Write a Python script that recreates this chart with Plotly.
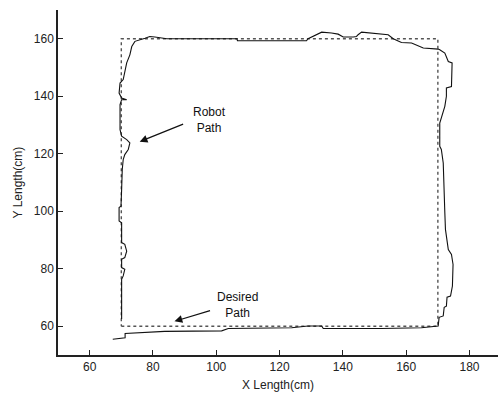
import plotly.graph_objects as go

# Desired square path
desired_x = [70, 170, 170, 70, 70]
desired_y = [60, 60, 160, 160, 60]

# Robot path
robot_x = [67.3, 71.2, 71.2, 80.6, 83.7, 101.7, 103.8, 123.8, 129.0, 133.3, 133.8, 152.2, 164.8, 170.1,
           170.1, 170.4, 171.7, 172.0, 172.7, 172.9, 174.0, 174.6, 174.8, 174.3, 173.3, 172.4, 172.2, 172.0,
           172.0, 171.7, 171.1, 170.6, 170.6, 171.7, 172.2, 172.7, 172.7, 174.3, 174.5, 173.3, 172.2, 170.6,
           170.1, 165.4, 163.3, 161.7, 158.5, 155.9, 154.3, 149.0, 145.9, 144.8, 144.3, 143.3, 140.1, 138.5,
           136.4, 133.3, 130.6, 129.0, 128.5, 106.7, 106.5, 84.4, 80.6, 79.0, 77.5, 74.3, 73.3, 72.7, 71.7,
           71.1, 70.6, 69.6, 69.3, 70.1, 71.7, 70.1, 69.6, 69.6, 70.1, 71.7, 72.7, 72.2, 71.1, 70.6, 70.3,
           70.1, 69.9, 69.3, 69.3, 70.1, 70.1, 71.1, 71.7, 71.1, 70.1, 70.1, 71.1, 70.6, 70.1, 70.1]
robot_y = [55.5, 56.0, 57.5, 57.9, 58.2, 58.4, 59.2, 59.5, 60.1, 60.1, 59.2, 59.2, 59.5, 60.1,
           60.1, 63.1, 63.6, 66.6, 67.0, 70.1, 70.5, 74.0, 81.5, 85.0, 86.7, 93.7, 99.6, 111.0,
           107.6, 116.8, 121.5, 122.6, 130.7, 134.2, 136.5, 140.0, 142.9, 143.4, 151.6, 152.1, 155.0, 156.2,
           156.4, 156.8, 157.9, 158.5, 158.7, 160.0, 161.4, 162.0, 162.3, 161.4, 160.8, 160.6, 160.6, 161.6,
           162.0, 162.3, 160.8, 160.0, 159.3, 159.3, 160.0, 160.0, 160.6, 160.8, 160.2, 159.1, 157.3, 154.4, 151.6,
           148.1, 145.8, 144.6, 141.1, 139.4, 138.8, 138.8, 137.1, 128.4, 126.1, 124.9, 123.8, 121.5, 119.7, 118.0, 114.5,
           107.6, 101.8, 101.3, 96.6, 96.0, 89.1, 88.5, 86.1, 83.9, 83.3, 80.4, 79.8, 77.5, 76.3, 62.5]

x_ticks = [60, 80, 100, 120, 140, 160, 180]
y_ticks = [60, 80, 100, 120, 140, 160]

FONT = "Liberation Sans, Arial, sans-serif"

fig = go.Figure()
fig.add_trace(go.Scatter(x=desired_x, y=desired_y, mode="lines",
                         line=dict(color="#555555", width=1.4, dash="dot"), hoverinfo="skip"))
fig.add_trace(go.Scatter(x=robot_x, y=robot_y, mode="lines",
                         line=dict(color="#111111", width=1.1), hoverinfo="skip"))

annotations = [
    dict(x=75.8, y=124.2, ax=90.0, ay=130.5, xref="x", yref="y", axref="x", ayref="y",
         text="", showarrow=True, arrowhead=2, arrowsize=1.3, arrowwidth=1.2, arrowcolor="#111"),
    dict(x=98.0, y=131.8, xref="x", yref="y", text="Robot<br>Path", showarrow=False,
         font=dict(family=FONT, size=12, color="#111")),
    dict(x=86.8, y=61.7, ax=98.5, ay=65.6, xref="x", yref="y", axref="x", ayref="y",
         text="", showarrow=True, arrowhead=2, arrowsize=1.3, arrowwidth=1.2, arrowcolor="#111"),
    dict(x=106.7, y=67.3, xref="x", yref="y", text="Desired<br>Path", showarrow=False,
         font=dict(family=FONT, size=12, color="#111")),
    dict(x=119.5, y=-0.087, xref="x", yref="paper", text="X Length(cm)", showarrow=False,
         xanchor="center", yanchor="middle", font=dict(family=FONT, size=12, color="#222")),
    dict(x=-0.091, y=0.5, xref="paper", yref="paper", text="Y Length(cm)", textangle=-90,
         showarrow=False, xanchor="center", yanchor="middle",
         font=dict(family=FONT, size=12, color="#222")),
]

fig.update_layout(
    width=498, height=394,
    margin=dict(l=58, r=0, t=10, b=39),
    paper_bgcolor="white", plot_bgcolor="white",
    showlegend=False,
    annotations=annotations,
    font=dict(family=FONT, size=12, color="#222"),
)
fig.update_xaxes(range=[50, 189], tickvals=x_ticks, ticks="inside", ticklen=5, tickcolor="#222",
                 showgrid=False, zeroline=False, showline=True, linecolor="#222", linewidth=1.5,
                 tickfont=dict(family=FONT, size=12, color="#222"))
fig.update_yaxes(range=[50, 170], tickvals=y_ticks, ticks="inside", ticklen=5, tickcolor="#222",
                 showgrid=False, zeroline=False, showline=True, linecolor="#222", linewidth=1.5,
                 tickfont=dict(family=FONT, size=12, color="#222"))

fig.write_html("out.html", config={"displayModeBar": False},
               post_script="document.body.style.margin='0';document.body.style.overflow='hidden';")
